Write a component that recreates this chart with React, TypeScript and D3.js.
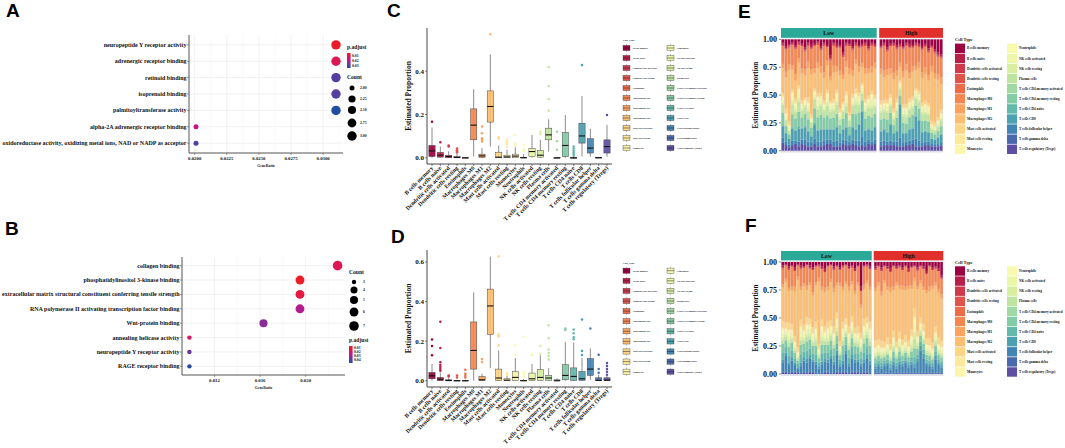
import { useRef, useEffect } from "react";
import * as d3 from "d3";

const serif = "'Liberation Serif', 'Times New Roman', serif";
const sans = "'Liberation Sans', Arial, sans-serif";

const cellTypes = [
  "B cells memory", "B cells naive", "Dendritic cells activated", "Dendritic cells resting",
  "Eosinophils", "Macrophages M0", "Macrophages M1", "Macrophages M2",
  "Mast cells activated", "Mast cells resting", "Monocytes", "Neutrophils",
  "NK cells activated", "NK cells resting", "Plasma cells",
  "T cells CD4 memory activated", "T cells CD4 memory resting", "T cells CD4 naive",
  "T cells CD8", "T cells follicular helper", "T cells gamma delta", "T cells regulatory (Tregs)",
];

// Panel A - GO dot plot
const aTerms = [
  "neuropeptide Y receptor activity", "adrenergic receptor binding", "retinoid binding",
  "isoprenoid binding", "palmitoyltransferase activity", "alpha-2A adrenergic receptor binding",
  "oxidoreductase activity, oxidizing metal ions, NAD or NADP as acceptor",
];
const aRatio = [0.031, 0.031, 0.031, 0.031, 0.031, 0.0201, 0.0201];
const aCount = [3, 3, 3, 3, 3, 2, 2];
const aPadj = [0.005, 0.012, 0.028, 0.028, 0.034, 0.018, 0.029];
const aXTicks = [0.02, 0.0225, 0.025, 0.0275, 0.03];
const aCountTicks = [2, 2.25, 2.5, 2.75, 3];
const aPadjTicks = [0.01, 0.02, 0.03];

// Panel B - GO dot plot
const bTerms = [
  "collagen binding", "phosphatidylinositol 3-kinase binding",
  "extracellular matrix structural constituent conferring tensile strength",
  "RNA polymerase II activating transcription factor binding", "Wnt-protein binding",
  "annealing helicase activity", "neuropeptide Y receptor activity", "RAGE receptor binding",
];
const bRatio = [0.0228, 0.0195, 0.0195, 0.0195, 0.0163, 0.0098, 0.0098, 0.0098];
const bCount = [7, 6, 6, 6, 5, 3, 3, 3];
const bPadj = [0.016, 0.006, 0.012, 0.028, 0.033, 0.02, 0.037, 0.046];
const bXTicks = [0.012, 0.016, 0.02];
const bCountTicks = [3, 4, 5, 6, 7];
const bPadjTicks = [0.01, 0.02, 0.03, 0.04];

// Panel C - boxplot stats [lower whisker, q1, median, q3, upper whisker]
const cStats = [
  [0, 0.006, 0.032, 0.057, 0.14], [0, 0.003, 0.012, 0.025, 0.052], [0, 0, 0.006, 0.012, 0.03],
  [0, 0, 0.002, 0.006, 0.018], [0, 0, 0, 0.001, 0.002], [0.006, 0.083, 0.151, 0.226, 0.317],
  [0, 0.002, 0.009, 0.017, 0.045], [0.052, 0.165, 0.237, 0.309, 0.478], [0, 0, 0.003, 0.026, 0.057],
  [0, 0, 0.004, 0.012, 0.037], [0, 0, 0.008, 0.017, 0.049], [0, 0, 0, 0.003, 0.017],
  [0, 0.005, 0.029, 0.043, 0.106], [0, 0.003, 0.012, 0.034, 0.083], [0.029, 0.083, 0.106, 0.137, 0.178],
  [0, 0, 0, 0.001, 0.002], [0, 0.005, 0.057, 0.117, 0.198], [0, 0, 0, 0.001, 0.003],
  [0.006, 0.068, 0.101, 0.16, 0.286], [0.005, 0.022, 0.045, 0.088, 0.134], [0, 0, 0, 0.002, 0.004],
  [0.005, 0.022, 0.052, 0.083, 0.152],
];
const cOutliers = [
  [0.166], [0.072], [0.052, 0.057], [0.025, 0.03, 0.035, 0.043], [], [],
  [0.075, 0.083, 0.09, 0.114, 0.145], [0.571], [0.089, 0.095], [0.052, 0.065, 0.075, 0.083],
  [0.057, 0.066, 0.105], [0.03, 0.04, 0.058], [], [0.109, 0.12], [0.217, 0.272, 0.332, 0.42],
  [0.037, 0.077, 0.12], [], [0.01, 0.018, 0.026, 0.034, 0.043, 0.052], [0.429], [], [], [0.198],
];

// Panel D - boxplot stats
const dStats = [
  [0, 0.01, 0.025, 0.042, 0.085], [0, 0, 0.008, 0.017, 0.042], [0, 0, 0.001, 0.005, 0.014],
  [0, 0, 0, 0.002, 0.005], [0, 0, 0, 0.002, 0.006], [0, 0.059, 0.153, 0.297, 0.446],
  [0, 0, 0.005, 0.022, 0.036], [0.064, 0.234, 0.378, 0.463, 0.627], [0, 0, 0.014, 0.059, 0.153],
  [0, 0, 0.003, 0.01, 0.027], [0, 0.002, 0.017, 0.047, 0.115], [0, 0, 0, 0.003, 0.008],
  [0, 0.002, 0.01, 0.039, 0.085], [0, 0.002, 0.017, 0.056, 0.129], [0, 0.002, 0.014, 0.027, 0.064],
  [0, 0, 0, 0.005, 0.012], [0, 0.005, 0.027, 0.081, 0.197], [0, 0.002, 0.022, 0.065, 0.193],
  [0, 0.002, 0.01, 0.047, 0.115], [0.005, 0.027, 0.059, 0.112, 0.163], [0, 0, 0.002, 0.015, 0.03],
  [0, 0, 0.003, 0.015, 0.025],
];
const dOutliers = [
  [0.129, 0.175, 0.208], [0.05, 0.06, 0.07, 0.08, 0.093, 0.166, 0.298], [0.022, 0.027],
  [0.017, 0.027], [0.017, 0.025, 0.036, 0.056], [], [0.095, 0.11], [],
  [0.18, 0.225, 0.234, 0.629], [0.031, 0.039], [0.132, 0.18], [0.02, 0.03, 0.039, 0.046, 0.222],
  [0.132], [0.137, 0.175], [0.107, 0.125, 0.14, 0.158, 0.215, 0.281], [], [0.256, 0.264],
  [0.21, 0.22, 0.24, 0.259], [0.13, 0.15, 0.31], [0.264], [0.04, 0.06, 0.132],
  [0.03, 0.045, 0.06, 0.075, 0.09],
];

// Panels E/F - per-sample fractions (%) in cellTypes order
const eLow = [
  [3, 1, 1, 1, 0, 16, 4, 22, 3, 1, 2, 0, 3, 2, 7, 0, 11, 1, 10, 5, 0, 7],
  [6, 2, 1, 0, 0, 20, 5, 28, 4, 1, 2, 1, 2, 1, 5, 0, 6, 1, 7, 3, 0, 5],
  [4, 1, 1, 1, 0, 14, 5, 44, 3, 1, 1, 0, 2, 1, 3, 0, 4, 0, 5, 2, 0, 3],
  [3, 1, 0, 1, 0, 18, 4, 18, 2, 1, 3, 1, 4, 3, 8, 1, 11, 1, 11, 4, 0, 5],
  [5, 2, 1, 1, 0, 22, 6, 16, 3, 2, 2, 0, 3, 2, 6, 0, 10, 1, 9, 3, 0, 6],
  [2, 1, 1, 1, 0, 12, 4, 20, 3, 1, 2, 1, 5, 3, 9, 0, 13, 2, 12, 4, 0, 4],
  [4, 1, 1, 0, 0, 20, 5, 24, 3, 1, 1, 0, 3, 2, 6, 0, 9, 1, 10, 4, 0, 6],
  [7, 2, 1, 1, 0, 16, 5, 20, 2, 1, 2, 0, 2, 2, 6, 0, 11, 1, 11, 5, 0, 5],
  [3, 1, 1, 1, 0, 14, 6, 26, 4, 1, 2, 1, 3, 2, 6, 1, 10, 1, 9, 4, 0, 4],
  [5, 2, 1, 1, 0, 18, 5, 36, 3, 1, 1, 0, 2, 1, 4, 0, 7, 1, 6, 3, 0, 4],
  [4, 1, 0, 1, 0, 20, 4, 14, 2, 1, 2, 0, 3, 2, 8, 0, 13, 2, 12, 5, 0, 6],
  [2, 1, 1, 1, 0, 16, 5, 22, 3, 1, 3, 1, 4, 3, 7, 0, 11, 1, 10, 4, 0, 4],
  [6, 2, 1, 1, 0, 14, 6, 18, 3, 2, 2, 0, 3, 2, 8, 0, 12, 1, 11, 4, 0, 4],
  [3, 1, 1, 1, 0, 24, 5, 20, 3, 1, 2, 0, 2, 2, 6, 0, 10, 1, 10, 4, 0, 5],
  [5, 1, 1, 0, 0, 12, 4, 22, 3, 1, 2, 1, 5, 3, 8, 1, 11, 1, 9, 4, 0, 6],
  [14, 3, 1, 1, 0, 14, 4, 18, 2, 1, 2, 0, 3, 2, 6, 0, 9, 1, 9, 4, 0, 6],
  [3, 1, 1, 1, 0, 18, 6, 24, 3, 1, 2, 0, 3, 2, 6, 0, 10, 1, 11, 4, 0, 4],
  [4, 2, 1, 1, 0, 16, 5, 16, 3, 1, 2, 1, 4, 3, 8, 0, 11, 1, 12, 5, 0, 4],
  [5, 1, 1, 1, 0, 20, 4, 30, 3, 1, 2, 0, 2, 2, 5, 0, 7, 1, 8, 3, 0, 4],
  [12, 2, 1, 1, 0, 16, 4, 20, 2, 1, 2, 0, 3, 2, 6, 0, 9, 1, 9, 4, 0, 6],
  [3, 1, 1, 1, 0, 14, 5, 22, 3, 1, 2, 1, 4, 3, 6, 0, 12, 1, 12, 4, 0, 5],
  [4, 1, 1, 0, 0, 20, 6, 34, 3, 1, 1, 0, 2, 1, 5, 0, 7, 1, 6, 3, 0, 5],
  [6, 2, 1, 1, 0, 18, 5, 16, 3, 1, 2, 0, 3, 2, 7, 0, 11, 1, 11, 4, 0, 6],
  [3, 1, 1, 1, 0, 12, 4, 22, 4, 1, 2, 1, 4, 3, 8, 1, 12, 1, 10, 4, 0, 5],
  [5, 1, 1, 1, 0, 16, 5, 18, 3, 2, 2, 0, 3, 2, 6, 0, 10, 1, 14, 5, 0, 4],
  [4, 1, 1, 1, 0, 14, 4, 14, 2, 1, 2, 0, 3, 2, 6, 0, 9, 1, 22, 8, 0, 5],
  [3, 1, 1, 1, 0, 20, 5, 22, 3, 1, 2, 1, 3, 2, 6, 0, 10, 1, 10, 4, 0, 4],
  [6, 2, 1, 1, 0, 16, 4, 20, 3, 1, 2, 0, 3, 2, 7, 0, 11, 1, 9, 4, 0, 6],
  [3, 1, 1, 1, 0, 18, 6, 16, 3, 1, 3, 1, 5, 3, 8, 0, 11, 1, 10, 3, 0, 5],
  [4, 1, 1, 1, 0, 14, 5, 24, 3, 1, 2, 0, 3, 2, 6, 0, 11, 1, 11, 4, 0, 6],
];
const eHigh = [
  [5, 1, 1, 1, 0, 18, 5, 24, 3, 1, 2, 0, 3, 2, 6, 0, 10, 1, 9, 4, 0, 4],
  [3, 1, 1, 1, 0, 22, 6, 20, 3, 1, 2, 0, 3, 2, 6, 0, 9, 1, 10, 4, 0, 5],
  [7, 2, 1, 1, 0, 16, 5, 22, 3, 1, 2, 1, 3, 2, 6, 0, 11, 1, 8, 3, 0, 5],
  [4, 1, 1, 0, 0, 20, 5, 18, 3, 1, 2, 0, 3, 2, 6, 0, 10, 1, 14, 4, 0, 5],
  [3, 1, 1, 1, 0, 24, 6, 26, 3, 1, 2, 0, 2, 2, 5, 0, 7, 1, 7, 3, 0, 5],
  [5, 2, 1, 1, 0, 18, 5, 20, 3, 1, 2, 0, 3, 2, 6, 0, 11, 1, 9, 4, 0, 4],
  [4, 1, 1, 1, 0, 14, 4, 12, 2, 1, 2, 0, 2, 2, 5, 0, 7, 1, 30, 8, 0, 4],
  [6, 1, 1, 1, 0, 20, 5, 24, 3, 1, 2, 0, 3, 2, 6, 0, 9, 1, 8, 3, 0, 4],
  [3, 1, 1, 1, 0, 16, 6, 30, 3, 1, 2, 1, 3, 2, 6, 0, 8, 1, 7, 3, 0, 5],
  [4, 2, 1, 1, 0, 22, 5, 18, 3, 1, 2, 0, 3, 2, 6, 0, 10, 1, 10, 4, 0, 5],
  [5, 1, 1, 1, 0, 16, 5, 22, 3, 1, 2, 0, 3, 2, 6, 0, 11, 1, 10, 4, 0, 6],
  [3, 1, 1, 1, 0, 18, 4, 16, 2, 1, 2, 0, 3, 2, 6, 0, 9, 1, 20, 7, 0, 4],
  [4, 1, 1, 1, 0, 14, 5, 20, 3, 1, 2, 0, 3, 2, 6, 0, 10, 1, 18, 5, 0, 4],
  [6, 2, 1, 1, 0, 20, 5, 22, 3, 1, 2, 0, 3, 2, 6, 0, 10, 1, 9, 3, 0, 4],
  [4, 1, 1, 1, 0, 18, 6, 24, 3, 1, 2, 1, 3, 2, 6, 0, 9, 1, 9, 3, 0, 5],
  [8, 2, 1, 1, 0, 20, 5, 20, 3, 1, 2, 0, 3, 2, 6, 0, 9, 1, 8, 3, 0, 5],
  [5, 1, 1, 1, 0, 16, 5, 44, 3, 1, 1, 0, 2, 1, 3, 0, 5, 0, 5, 2, 0, 4],
  [9, 2, 1, 1, 0, 18, 5, 40, 3, 1, 1, 0, 2, 1, 3, 0, 5, 0, 4, 2, 0, 4],
  [12, 2, 1, 1, 0, 16, 5, 34, 3, 1, 2, 0, 2, 1, 4, 0, 5, 1, 6, 2, 0, 4],
  [14, 2, 1, 1, 0, 18, 6, 24, 3, 1, 2, 0, 3, 2, 5, 0, 7, 1, 7, 3, 0, 5],
];
const fLow = [
  [3, 2, 1, 0, 0, 14, 3, 30, 6, 1, 4, 1, 3, 3, 3, 0, 8, 6, 3, 8, 1, 1],
  [2, 1, 0, 0, 0, 12, 3, 36, 5, 1, 3, 0, 2, 2, 3, 0, 6, 5, 3, 14, 1, 1],
  [4, 2, 1, 0, 0, 16, 3, 28, 6, 1, 4, 1, 3, 3, 4, 0, 8, 6, 2, 7, 1, 0],
  [3, 1, 0, 0, 0, 18, 3, 30, 5, 1, 3, 0, 3, 2, 3, 0, 7, 6, 3, 10, 1, 1],
  [5, 2, 1, 0, 0, 14, 4, 40, 5, 1, 3, 0, 2, 2, 2, 0, 5, 4, 2, 6, 1, 1],
  [2, 1, 0, 0, 0, 10, 3, 60, 4, 1, 2, 0, 2, 1, 2, 0, 3, 3, 1, 4, 0, 1],
  [3, 2, 1, 0, 0, 16, 3, 26, 6, 1, 4, 1, 4, 3, 4, 0, 9, 7, 3, 6, 1, 0],
  [4, 1, 0, 0, 0, 14, 3, 34, 5, 1, 3, 0, 3, 2, 3, 0, 7, 5, 3, 10, 1, 1],
  [2, 1, 0, 0, 0, 18, 4, 24, 6, 1, 4, 1, 3, 3, 4, 0, 8, 7, 4, 9, 1, 0],
  [3, 2, 1, 0, 0, 12, 3, 30, 5, 1, 4, 0, 3, 3, 3, 0, 8, 6, 3, 12, 1, 1],
  [5, 2, 0, 0, 0, 20, 3, 28, 5, 1, 3, 0, 3, 2, 3, 0, 7, 5, 2, 9, 1, 1],
  [3, 1, 0, 0, 0, 14, 3, 32, 6, 1, 4, 1, 3, 3, 4, 0, 8, 6, 3, 7, 1, 0],
  [2, 1, 1, 0, 0, 10, 3, 56, 4, 1, 2, 0, 2, 2, 2, 0, 4, 3, 2, 5, 0, 0],
  [4, 2, 0, 0, 0, 16, 3, 26, 6, 1, 4, 1, 4, 3, 4, 0, 8, 7, 3, 7, 1, 0],
  [6, 2, 1, 0, 0, 14, 4, 30, 5, 1, 3, 0, 3, 2, 3, 0, 7, 5, 3, 9, 1, 1],
  [3, 1, 0, 0, 0, 18, 3, 28, 6, 1, 4, 1, 3, 3, 3, 0, 7, 6, 3, 8, 1, 1],
  [2, 1, 0, 0, 0, 12, 3, 34, 5, 1, 3, 0, 3, 2, 4, 0, 8, 6, 2, 13, 1, 0],
  [4, 2, 1, 0, 0, 16, 4, 30, 6, 1, 4, 0, 3, 3, 3, 0, 7, 5, 3, 7, 1, 0],
  [3, 1, 0, 0, 0, 14, 3, 24, 5, 1, 4, 1, 3, 3, 4, 0, 7, 6, 4, 15, 1, 1],
  [5, 2, 0, 0, 0, 12, 3, 50, 4, 1, 2, 0, 2, 2, 2, 0, 4, 4, 2, 6, 0, 1],
  [3, 1, 1, 0, 0, 18, 3, 28, 6, 1, 4, 1, 3, 3, 4, 0, 8, 6, 3, 7, 1, 1],
  [2, 1, 0, 0, 0, 14, 3, 30, 5, 1, 3, 0, 3, 2, 3, 0, 7, 5, 3, 16, 1, 1],
  [4, 2, 0, 0, 0, 16, 4, 32, 6, 1, 4, 1, 3, 3, 3, 0, 7, 6, 2, 6, 1, 0],
  [3, 1, 1, 0, 0, 12, 3, 28, 5, 1, 4, 0, 3, 3, 4, 0, 8, 7, 3, 12, 1, 1],
  [6, 2, 0, 0, 0, 18, 3, 30, 5, 1, 3, 0, 3, 2, 3, 0, 7, 5, 3, 8, 1, 1],
  [3, 1, 0, 0, 0, 14, 3, 36, 6, 1, 3, 1, 3, 2, 3, 0, 6, 5, 2, 9, 1, 1],
  [22, 3, 1, 0, 0, 12, 3, 22, 5, 1, 3, 0, 3, 2, 3, 0, 6, 5, 2, 6, 1, 0],
  [3, 1, 0, 0, 0, 16, 4, 26, 6, 1, 4, 1, 3, 3, 4, 0, 8, 6, 3, 8, 1, 1],
  [2, 1, 1, 0, 0, 12, 3, 30, 5, 1, 4, 0, 3, 3, 3, 0, 8, 7, 3, 12, 1, 1],
  [4, 2, 0, 0, 0, 16, 3, 28, 6, 1, 4, 1, 3, 3, 4, 0, 7, 6, 4, 7, 1, 0],
];
const fHigh = [
  [4, 2, 1, 0, 0, 16, 3, 44, 6, 1, 3, 0, 2, 2, 2, 0, 4, 3, 2, 4, 1, 0],
  [3, 1, 0, 0, 0, 14, 3, 48, 5, 1, 3, 0, 2, 2, 2, 0, 4, 3, 2, 6, 1, 0],
  [5, 2, 1, 0, 0, 18, 4, 40, 6, 1, 3, 0, 2, 2, 2, 0, 4, 3, 2, 5, 0, 0],
  [3, 1, 0, 0, 0, 12, 3, 52, 5, 1, 2, 0, 2, 2, 2, 0, 3, 3, 2, 6, 1, 0],
  [4, 2, 0, 0, 0, 16, 3, 42, 6, 1, 3, 0, 2, 2, 2, 0, 4, 3, 2, 7, 1, 0],
  [6, 2, 1, 0, 0, 14, 4, 46, 5, 1, 3, 0, 2, 2, 2, 0, 3, 3, 2, 4, 0, 0],
  [3, 1, 0, 0, 0, 18, 3, 36, 6, 1, 4, 0, 3, 2, 3, 0, 5, 4, 3, 7, 1, 0],
  [4, 2, 0, 0, 0, 12, 3, 50, 5, 1, 3, 0, 2, 2, 2, 0, 4, 3, 2, 4, 1, 0],
  [3, 1, 1, 0, 0, 16, 3, 38, 6, 1, 3, 0, 3, 2, 3, 0, 5, 4, 3, 7, 1, 0],
  [5, 2, 0, 0, 0, 14, 4, 44, 5, 1, 3, 0, 2, 2, 2, 0, 4, 3, 2, 6, 1, 0],
  [3, 1, 0, 0, 0, 18, 3, 40, 6, 1, 3, 0, 2, 2, 2, 0, 4, 3, 2, 9, 1, 0],
  [6, 2, 1, 0, 0, 12, 3, 46, 5, 1, 3, 0, 2, 2, 2, 0, 4, 3, 2, 5, 1, 0],
  [4, 1, 0, 0, 0, 16, 3, 36, 6, 1, 4, 0, 3, 3, 3, 0, 5, 4, 3, 7, 1, 0],
  [3, 1, 0, 0, 0, 10, 3, 24, 8, 1, 6, 1, 6, 6, 8, 0, 8, 6, 3, 5, 1, 0],
  [5, 2, 1, 0, 0, 14, 3, 38, 5, 1, 3, 0, 3, 2, 3, 0, 5, 4, 3, 10, 1, 0],
  [3, 1, 0, 0, 0, 12, 3, 30, 5, 1, 3, 0, 3, 2, 3, 0, 5, 4, 4, 20, 1, 0],
  [4, 2, 0, 0, 0, 16, 3, 30, 6, 1, 3, 0, 3, 2, 3, 0, 5, 4, 4, 13, 1, 0],
  [8, 2, 1, 0, 0, 14, 3, 40, 5, 1, 3, 0, 2, 2, 2, 0, 4, 3, 2, 7, 1, 0],
  [3, 1, 0, 0, 0, 18, 4, 42, 6, 1, 3, 0, 2, 2, 2, 0, 4, 3, 2, 6, 1, 0],
  [5, 2, 0, 0, 0, 14, 3, 48, 5, 1, 3, 0, 2, 2, 2, 0, 3, 3, 2, 4, 1, 0],
  [4, 1, 1, 0, 0, 12, 3, 36, 5, 1, 3, 0, 3, 2, 3, 0, 5, 4, 3, 12, 1, 0],
  [6, 2, 0, 0, 0, 16, 3, 40, 6, 1, 3, 0, 2, 2, 2, 0, 4, 3, 2, 7, 1, 0],
  [12, 2, 1, 0, 0, 14, 4, 38, 5, 1, 3, 0, 2, 2, 2, 0, 4, 3, 2, 5, 1, 0],
];
const propTicks = [0, 0.25, 0.5, 0.75, 1];

const palette = d3.quantize(d3.interpolateSpectral, cellTypes.length);
const padjColor = d3.scaleLinear<string>()
  .domain([0, 0.3, 0.5, 0.78, 1])
  .range(["#ee1c24", "#d9165a", "#c2168c", "#5c3ca0", "#1f4ea2"])
  .clamp(true);

function txt(g: any, x: number, y: number, s: string, size: number, anchor = "start", font = serif) {
  return g.append("text").attr("x", x).attr("y", y).attr("text-anchor", anchor)
    .attr("font-family", font).attr("font-weight", "bold").attr("font-size", size)
    .attr("fill", "#111").text(s);
}

function drawDot(svg: any, c: any, id: string) {
  const g = svg.append("g");
  const [lo, hi] = d3.extent(c.ratio as number[]) as [number, number];
  const pad = (hi - lo) * 0.05;
  const x = d3.scaleLinear().domain([lo - pad, hi + pad]).range([c.x0, c.x1]);
  const y = d3.scalePoint<string>().domain(c.terms).range([c.y0, c.y1]).padding(0.6);
  const step = c.xTicks[1] - c.xTicks[0];
  const minor = d3.range(c.xTicks[0] - step * 2.5, hi + pad, step).filter((v: number) => v > lo - pad);

  g.selectAll(".mn").data(minor).join("line")
    .attr("x1", (d: number) => x(d)).attr("x2", (d: number) => x(d))
    .attr("y1", c.y0).attr("y2", c.y1).attr("stroke", "#f4f4f4").attr("stroke-width", 0.4);
  g.selectAll(".mj").data(c.xTicks).join("line")
    .attr("x1", (d: number) => x(d)).attr("x2", (d: number) => x(d))
    .attr("y1", c.y0).attr("y2", c.y1).attr("stroke", "#e8e8e8").attr("stroke-width", 0.6);
  g.selectAll(".hz").data(c.terms).join("line")
    .attr("x1", c.x0).attr("x2", c.x1).attr("y1", (d: string) => y(d)).attr("y2", (d: string) => y(d))
    .attr("stroke", "#e8e8e8").attr("stroke-width", 0.6);

  g.append("line").attr("x1", c.x0).attr("x2", c.x0).attr("y1", c.y0).attr("y2", c.y1)
    .attr("stroke", "#555").attr("stroke-width", 1);
  g.append("line").attr("x1", c.x0).attr("x2", c.x1).attr("y1", c.y1).attr("y2", c.y1)
    .attr("stroke", "#555").attr("stroke-width", 1);

  c.xTicks.forEach((t: number) => {
    g.append("line").attr("x1", x(t)).attr("x2", x(t)).attr("y1", c.y1).attr("y2", c.y1 + 2)
      .attr("stroke", "#555").attr("stroke-width", 0.6);
    txt(g, x(t), c.y1 + 6.5, c.tickFmt(t), 4.8, "middle");
  });
  txt(g, (c.x0 + c.x1) / 2, c.y1 + 14, "GeneRatio", 3.8, "middle");

  c.terms.forEach((t: string) => {
    g.append("line").attr("x1", c.x0 - 2).attr("x2", c.x0).attr("y1", y(t)).attr("y2", y(t))
      .attr("stroke", "#555").attr("stroke-width", 0.6);
    txt(g, c.x0 - 2.5, (y(t) as number) + 2, t, 6, "end");
  });

  const [cmin, cmax] = d3.extent(c.countTicks as number[]) as [number, number];
  const r = (v: number) => c.rRange[0] + (c.rRange[1] - c.rRange[0]) * Math.sqrt((v - cmin) / (cmax - cmin));
  const pt = (p: number) => (p - c.padjDomain[0]) / (c.padjDomain[1] - c.padjDomain[0]);

  g.selectAll(".pt").data(c.terms).join("circle")
    .attr("cx", (_: string, i: number) => x(c.ratio[i]))
    .attr("cy", (d: string) => y(d))
    .attr("r", (_: string, i: number) => r(c.count[i]))
    .attr("fill", (_: string, i: number) => padjColor(pt(c.padj[i])));

  // legends
  const L = c.legend;
  txt(g, L.colorTitle[0], L.colorTitle[1], "p.adjust", 5.6);
  const grad = svg.append("defs").append("linearGradient").attr("id", id)
    .attr("x1", 0).attr("x2", 0).attr("y1", 0).attr("y2", 1);
  d3.range(0, 1.01, 0.1).forEach((t: number) => {
    grad.append("stop").attr("offset", t).attr("stop-color", padjColor(t));
  });
  g.append("rect").attr("x", L.bar[0]).attr("y", L.bar[1]).attr("width", 3.6).attr("height", L.bar[2])
    .attr("fill", `url(#${id})`);
  c.padjTicks.forEach((p: number) => {
    const yy = L.bar[1] + pt(p) * L.bar[2];
    txt(g, L.bar[0] + 5, yy + 1.3, p.toFixed(2), 3.8);
  });
  txt(g, L.countTitle[0], L.countTitle[1], "Count", 5.6);
  c.countTicks.forEach((v: number, i: number) => {
    g.append("circle").attr("cx", L.dotX).attr("cy", L.dotY[i]).attr("r", r(v)).attr("fill", "#000");
    txt(g, L.labelX, L.dotY[i] + 1.3, c.countFmt(v), 3.8);
  });
}

function drawBox(svg: any, c: any) {
  const g = svg.append("g");
  const x = d3.scalePoint<string>().domain(cellTypes).range([c.x0, c.x1]).padding(0.6);
  const ymax = d3.max(cellTypes.map((_, i) => Math.max(c.stats[i][4], ...(c.outliers[i].length ? c.outliers[i] : [0])))) as number;
  const y = d3.scaleLinear().domain([-ymax * 0.05, ymax * 1.05]).range([c.y1, c.y0]);
  const bw = x.step() * 0.75;

  cellTypes.forEach((name, i) => {
    const cx = x(name) as number;
    const [lo, q1, med, q3, hi] = c.stats[i];
    const col = palette[i];
    g.append("line").attr("x1", cx).attr("x2", cx).attr("y1", y(lo)).attr("y2", y(hi))
      .attr("stroke", "#5a5a5a").attr("stroke-width", 0.7);
    g.append("rect").attr("x", cx - bw / 2).attr("width", bw)
      .attr("y", y(q3)).attr("height", Math.max(0.6, y(q1) - y(q3)))
      .attr("fill", col).attr("fill-opacity", 0.92).attr("stroke", "#3a3a3a").attr("stroke-width", 0.45);
    g.append("line").attr("x1", cx - bw / 2).attr("x2", cx + bw / 2).attr("y1", y(med)).attr("y2", y(med))
      .attr("stroke", "#111").attr("stroke-width", 1.1);
    c.outliers[i].forEach((v: number) => {
      g.append("circle").attr("cx", cx).attr("cy", y(v)).attr("r", 1.25).attr("fill", col);
    });
    g.append("line").attr("x1", cx).attr("x2", cx).attr("y1", c.y1).attr("y2", c.y1 + 2)
      .attr("stroke", "#333").attr("stroke-width", 0.6);
    txt(g, cx + 1.5, c.y1 + 4.5, name, 5.8, "end")
      .attr("transform", `rotate(-45, ${cx + 1.5}, ${c.y1 + 4.5})`);
  });

  g.append("line").attr("x1", c.x0).attr("x2", c.x0).attr("y1", c.y0).attr("y2", c.y1)
    .attr("stroke", "#333").attr("stroke-width", 0.9);
  g.append("line").attr("x1", c.x0).attr("x2", c.x1).attr("y1", c.y1).attr("y2", c.y1)
    .attr("stroke", "#333").attr("stroke-width", 0.9);
  c.yTicks.forEach((t: number) => {
    g.append("line").attr("x1", c.x0 - 2).attr("x2", c.x0).attr("y1", y(t)).attr("y2", y(t))
      .attr("stroke", "#333").attr("stroke-width", 0.6);
    txt(g, c.x0 - 3, y(t) + 2.4, t.toFixed(1), 7, "end");
  });
  const ym = (c.y0 + c.y1) / 2;
  txt(g, c.x0 - 16, ym, "Estimated Proportion", 7.5, "middle")
    .attr("transform", `rotate(-90, ${c.x0 - 16}, ${ym})`);

  // legend
  const L = c.legend;
  txt(g, L.x, L.top - 7, "Cell_type", 2.8);
  cellTypes.forEach((name, i) => {
    const col = Math.floor(i / 11);
    const kx = L.x + col * L.colGap;
    const cy = L.top + (i % 11) * L.step;
    g.append("line").attr("x1", kx + 3.5).attr("x2", kx + 3.5).attr("y1", cy - 4).attr("y2", cy + 4)
      .attr("stroke", "#666").attr("stroke-width", 0.4);
    g.append("rect").attr("x", kx).attr("y", cy - 2.6).attr("width", 7).attr("height", 5.2)
      .attr("fill", palette[i]).attr("stroke", "#444").attr("stroke-width", 0.4);
    g.append("line").attr("x1", kx).attr("x2", kx + 7).attr("y1", cy).attr("y2", cy)
      .attr("stroke", "#222").attr("stroke-width", 0.5);
    txt(g, kx + 10, cy + 0.8, name, 2.3);
  });
}

function drawStack(svg: any, c: any) {
  const g = svg.append("g");
  const y = d3.scaleLinear().domain([0, 1]).range([c.y1, c.y0]);
  const facets = [
    { label: "Low", rows: c.low, fill: "#2aa898" },
    { label: "High", rows: c.high, fill: "#e1302b" },
  ];
  const n = c.low.length + c.high.length;
  const unit = (c.x1 - c.x0 - c.gap) / n;
  const keys = d3.range(cellTypes.length).reverse();
  let cursor = c.x0;
  facets.forEach((f) => {
    const w = unit * f.rows.length;
    const rows = f.rows.map((r: number[]) => {
      const s = d3.sum(r);
      return r.map((v) => v / s);
    });
    const xb = d3.scaleBand<number>().domain(d3.range(rows.length)).range([cursor, cursor + w]).padding(0.16);
    g.append("rect").attr("x", cursor).attr("y", c.y0 - 0.8).attr("width", w)
      .attr("height", c.y1 - c.y0 + 2.6).attr("fill", "#dcdce6");
    const series = d3.stack<number[], number>().keys(keys).value((d, k) => d[k])(rows);
    series.forEach((s) => {
      g.append("g").attr("fill", palette[s.key]).selectAll("rect").data(s).join("rect")
        .attr("x", (_: any, i: number) => xb(i)).attr("width", xb.bandwidth())
        .attr("y", (d: any) => y(d[1])).attr("height", (d: any) => Math.max(0, y(d[0]) - y(d[1])));
    });
    g.append("rect").attr("x", cursor).attr("y", c.stripTop).attr("width", w)
      .attr("height", c.y0 - 1.6 - c.stripTop).attr("fill", f.fill);
    txt(g, cursor + w / 2, (c.stripTop + c.y0 - 1.6) / 2 + 2, f.label, 5.8, "middle");
    cursor += w + c.gap;
  });

  propTicks.forEach((t) => {
    g.append("line").attr("x1", c.x0 - 2).attr("x2", c.x0).attr("y1", y(t)).attr("y2", y(t))
      .attr("stroke", "#333").attr("stroke-width", 0.6);
    txt(g, c.x0 - 4, y(t) + 2.8, t.toFixed(2), 8, "end");
  });
  const ym = (c.y0 + c.y1) / 2;
  txt(g, c.x0 - 23, ym, "Estimated Proportion", 7.2, "middle")
    .attr("transform", `rotate(-90, ${c.x0 - 23}, ${ym})`);

  const L = c.legend;
  txt(g, L.x, L.top - 7, "Cell Type", 4.4);
  cellTypes.forEach((name, i) => {
    const col = Math.floor(i / 11);
    const kx = L.x + col * L.colGap;
    const cy = L.top + (i % 11) * L.step;
    g.append("rect").attr("x", kx).attr("y", cy - 4.7).attr("width", 10).attr("height", 9.4)
      .attr("fill", palette[i]);
    txt(g, kx + 12, cy + 1.1, name, 3.4);
  });
}

export default function App() {
  const svgRef = useRef<SVGSVGElement>(null);

  useEffect(() => {
    if (!svgRef.current) return;
    const svg = d3.select(svgRef.current);
    svg.selectAll("*").remove();
    svg.append("rect").attr("width", 1065).attr("height", 448).attr("fill", "#fff");

    drawDot(svg, {
      terms: aTerms, ratio: aRatio, count: aCount, padj: aPadj,
      xTicks: aXTicks, tickFmt: (v: number) => v.toFixed(4),
      countTicks: aCountTicks, countFmt: (v: number) => v.toFixed(2),
      padjTicks: aPadjTicks, padjDomain: [0.004, 0.034], rRange: [2.5, 4.7],
      x0: 189, x1: 343, y0: 35, y1: 153,
      legend: { colorTitle: [347, 49], bar: [347, 53, 15], countTitle: [347, 79],
        dotX: 352, dotY: [88, 99, 110, 123, 136], labelX: 360 },
    }, "gradA");

    drawDot(svg, {
      terms: bTerms, ratio: bRatio, count: bCount, padj: bPadj,
      xTicks: bXTicks, tickFmt: (v: number) => v.toFixed(3),
      countTicks: bCountTicks, countFmt: (v: number) => String(v),
      padjTicks: bPadjTicks, padjDomain: [0.005, 0.0475], rRange: [2.2, 4.8],
      x0: 182, x1: 345, y0: 257, y1: 375,
      legend: { colorTitle: [349, 342], bar: [349, 346, 17], countTitle: [349, 274],
        dotX: 354, dotY: [282, 290, 300, 312, 326], labelX: 363 },
    }, "gradB");

    drawBox(svg, {
      stats: cStats, outliers: cOutliers, yTicks: [0, 0.2, 0.4],
      x0: 427, x1: 612, y0: 28, y1: 164,
      legend: { x: 623, top: 48, step: 10, colGap: 44 },
    });
    drawBox(svg, {
      stats: dStats, outliers: dOutliers, yTicks: [0, 0.2, 0.4, 0.6],
      x0: 427, x1: 612, y0: 250, y1: 387,
      legend: { x: 623, top: 270.7, step: 10.1, colGap: 44 },
    });

    drawStack(svg, {
      low: eLow, high: eHigh, x0: 781, x1: 943, gap: 2.5,
      y0: 39.4, y1: 150.7, stripTop: 28,
      legend: { x: 955, top: 48.3, step: 10.1, colGap: 52 },
    });
    drawStack(svg, {
      low: fLow, high: fHigh, x0: 781, x1: 943.3, gap: 2,
      y0: 262, y1: 374, stripTop: 251,
      legend: { x: 955, top: 271, step: 10.1, colGap: 52 },
    });

    [["A", 6, 17], ["B", 5, 235], ["C", 387, 17], ["D", 391, 243], ["E", 738, 18], ["F", 745, 232]]
      .forEach(([l, x, yy]) => txt(svg, x as number, yy as number, l as string, 19, "start", sans).attr("fill", "#000"));
  }, []);

  return (
    <svg ref={svgRef} width={1065} height={448}
      style={{ position: "absolute", left: 0, top: 0, display: "block" }} />
  );
}
